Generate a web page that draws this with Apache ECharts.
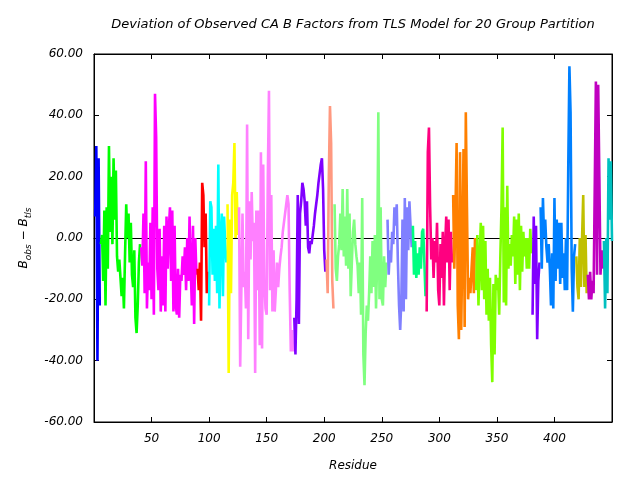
<!DOCTYPE html>
<html>
<head>
<meta charset="utf-8">
<script src="https://cdn.jsdelivr.net/npm/echarts@6/dist/echarts.min.js"></script>
<style>
  html, body { margin: 0; padding: 0; background: #fff; }
  #main { width: 640px; height: 480px; }
</style>
</head>
<body>
<div id="main"></div>
<script>
// B_obs - B_tls per residue, residue 1..450
var bDiff = [
  // 1-5
  7, 30, -40, 26, -22,
  // 6-40
  -2, 1, -14, 9, -22, 10, -10, 30, 2, 20, -2, 26, 6, 22, -6, -11, -7, -13, -19, -13,
  -23, -5, 11, 0, 8, -8, 5, -12, -16, -4, -26, -31, -22, -8, -2,
  // 41-89
  -3, -9, 8, -18, 25, -23, -8, -17, 5, -20, 10, -25, 47, 33, -10, -17, 3, -24, -6, -22,
  4, -24, 7, -10, 3, 10, -14, 9, -24, 4, -22, -25, -10, -26, -12, -14, -6, -12, -3, -17,
  0, -14, 7, -10, -22, 4, -28, 0, -12,
  // 90-99
  -10, -17, -8, -27, 18, 14, -3, 8, -18, -11,
  // 100-115
  -22, 12, 10, -12, 3, -14, 4, -18, 24, -23, 0, 8, -19, 7, -2, -8,
  // 116-125
  11, -44, 6, -18, 14, 18, 31, 0, 15, 1,
  // 126-173
  10, -42, -17, 8, -16, -11, -23, 37, -33, 12, -7, 15, -1, 5, -44, 9, -17, 9, -35, 28,
  -36, 24, -14, -23, -25, 20, 48, -17, 14, -24, -4, -24, -17, -8, -16, -10, -6, -3, 2, 5,
  8, 11, 14, 11, -17, -37, -30, -37,
  // 174-201
  -26, -38, -20, 14, -28, 8, 12, 18, 16, 12, 4, 12, -3, -5, -1, -2, 1, 4, 8, 11,
  14, 18, 21, 24, 26, 16, -4, -11,
  // 202-208
  -7, -18, 20, 43, 31, -14, -23,
  // 209-254
  11, -10, -14, -6, -2, 8, -4, 16, -6, 7, -9, 16, -10, 8, -19, -8, 2, 6, -2, -6,
  -9, -18, -8, -25, 13, -38, -48, -31, -22, -27, -18, -6, -18, -1, -16, 1, -23, -8, 41, -20,
  10, -20, -22, -6, -16, -8,
  // 255-276
  6, -12, -4, -8, 2, -2, 10, 4, 11, -8, -22, -30, -20, 6, -24, 13, -20, 10, -4, 12, 4, -3,
  // 277-288
  4, -12, -1, -13, -5, -12, -3, -10, 2, 3, -8, -19,
  // 289-311
  -24, 28, 36, 10, -7, 0, -13, -1, -8, 5, -17, -22, -2, -13, 2, -22, -3, 7, -8, 6, -17, 2, -8,
  // 312-331
  14, -10, 8, 31, -22, -33, 28, -30, -3, 29, -29, 41, 10, -20, -13, -18, -10, -3, -18, 0,
  // 332-380
  -17, 1, -22, -8, 5, -17, 4, -20, -1, -25, -10, -27, -13, -35, -47, -15, -38, -12, -17, -13,
  -25, -6, 10, 36, -21, 10, -22, 17, -10, -2, -9, 1, -6, 7, -15, 6, -12, 8, -17, 4,
  -11, 2, -6, 0, -10, 0, -10, 3, -5,
  // 381-387
  -25, 7, -15, 4, -33, -14, -8,
  // 388-418
  10, -10, 13, 0, 6, -3, -8, -2, -10, -22, -5, -23, 13, -14, 6, -10, 5, -15, 5, -13,
  -5, -17, 0, -17, 23, 56, 41, -10, -24, -6, -2,
  // 419-428
  -6, -16, -20, 0, -16, 0, 14, -16, 1, -18,
  // 429-442
  -12, -20, -11, -20, -14, -18, 16, 51, -12, 50, 20, -12, -4, -10,
  // 443-450
  -1, -23, 0, -18, 26, 6, 25, -1
];

// first residue of each TLS group
var groupStarts = [1, 6, 41, 90, 100, 116, 126, 174, 202, 209, 255, 277, 289, 312, 332, 381, 388, 419, 429, 443];
var groupColors = ['#0000ff', '#00ff00', '#ff00ff', '#ff0000', '#00ffff', '#ffff00', '#ff80ff', '#8000ff',
  '#ff9980', '#80ff80', '#8080ff', '#00ff80', '#ff0080', '#ff8000', '#80ff00', '#8000ff',
  '#0080ff', '#c0c000', '#c000c0', '#00c0c0'];
var yTicks = [-60, -40, -20, 0, 20, 40, 60];

var font = 'DejaVu Sans';

var series = [];
for (var g = 0; g < groupStarts.length; g++) {
  var from = groupStarts[g];
  var to = g + 1 < groupStarts.length ? groupStarts[g + 1] - 1 : bDiff.length;
  var pts = [];
  for (var r = from; r <= to; r++) {
    pts.push([r, bDiff[r - 1]]);
  }
  series.push({
    name: 'group' + (g + 1),
    type: 'line',
    data: pts,
    showSymbol: false,
    lineStyle: { color: groupColors[g], width: 2.6 },
    itemStyle: { color: groupColors[g] },
    animation: false,
    silent: true
  });
}

var chart = echarts.init(document.getElementById('main'));
var option = {
  backgroundColor: '#fff',
  animation: false,
  title: {
    text: 'Deviation of Observed CA B Factors from TLS Model for 20 Group Partition',
    left: 353,
    top: 18,
    padding: 0,
    textAlign: 'center',
    textStyle: { fontFamily: font, fontStyle: 'italic', fontWeight: 'normal', fontSize: 13, color: '#000' }
  },
  grid: {
    left: 94, right: 28, top: 54, bottom: 58,
    show: true, borderColor: '#000', borderWidth: 1, backgroundColor: 'transparent'
  },
  xAxis: [
    {
      type: 'value', min: 0, max: 450, interval: 50, position: 'bottom',
      name: 'Residue', nameLocation: 'middle', nameGap: 38,
      nameTextStyle: { fontFamily: font, fontStyle: 'italic', fontSize: 12, color: '#000' },
      axisLine: { onZero: false, lineStyle: { color: '#000' } },
      axisTick: { inside: true, length: 5, lineStyle: { color: '#000' } },
      axisLabel: { showMinLabel: false, showMaxLabel: false, margin: 11,
        fontFamily: font, fontStyle: 'italic', fontSize: 12, color: '#000' },
      splitLine: { show: false }
    },
    {
      type: 'value', min: 0, max: 450, interval: 50, position: 'top',
      axisLine: { onZero: false, lineStyle: { color: '#000' } },
      axisTick: { inside: true, length: 5, lineStyle: { color: '#000' } },
      axisLabel: { show: false },
      splitLine: { show: false }
    },
    {
      // zero line
      type: 'value', min: 0, max: 450, position: 'bottom',
      axisLine: { onZero: true, lineStyle: { color: '#000', width: 1 } },
      axisTick: { show: false },
      axisLabel: { show: false },
      splitLine: { show: false }
    }
  ],
  yAxis: [
    {
      type: 'value', min: -60, max: 60, interval: 20, position: 'left',
      name: '{b|B}{s|obs}{b| \u2212 B}{s|tls}', nameLocation: 'middle', nameGap: 64, nameRotate: 90,
      nameTextStyle: {
        fontFamily: font, fontStyle: 'italic', fontSize: 12, color: '#000',
        rich: {
          b: { fontFamily: font, fontStyle: 'italic', fontSize: 12, color: '#000', verticalAlign: 'bottom', lineHeight: 16 },
          s: { fontFamily: font, fontStyle: 'italic', fontSize: 9, color: '#000', verticalAlign: 'bottom', lineHeight: 10, padding: [0, 0, -3, 0] }
        }
      },
      axisLine: { onZero: false, lineStyle: { color: '#000' } },
      axisTick: { inside: true, length: 5, lineStyle: { color: '#000' } },
      axisLabel: {
        margin: 11, fontFamily: font, fontStyle: 'italic', fontSize: 12, color: '#000',
        formatter: function (v) { return yTicks.indexOf(v) >= 0 ? v.toFixed(2) : ''; }
      },
      splitLine: { show: false }
    },
    {
      type: 'value', min: -60, max: 60, interval: 20, position: 'right',
      axisLine: { onZero: false, lineStyle: { color: '#000' } },
      axisTick: { inside: true, length: 5, lineStyle: { color: '#000' } },
      axisLabel: { show: false },
      splitLine: { show: false }
    }
  ],
  series: series
};
chart.setOption(option);
</script>
</body>
</html>
